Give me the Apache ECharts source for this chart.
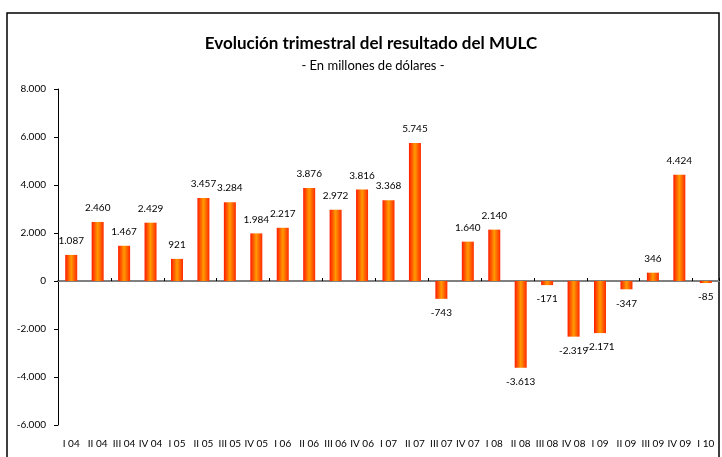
<!DOCTYPE html>
<html>
<head>
<meta charset="utf-8">
<script src="https://cdn.jsdelivr.net/npm/echarts@6/dist/echarts.min.js"></script>
<style>
  html, body { margin: 0; padding: 0; background: #fff; }
  #chart { width: 722px; height: 457px; }
</style>
</head>
<body>
<div id="chart"></div>
<script>
var quarters = ['I 04', 'II 04', 'III 04', 'IV 04', 'I 05', 'II 05', 'III 05', 'IV 05', 'I 06', 'II 06', 'III 06', 'IV 06', 'I 07', 'II 07', 'III 07', 'IV 07', 'I 08', 'II 08', 'III 08', 'IV 08', 'I 09', 'II 09', 'III 09', 'IV 09', 'I 10'];
var resultado = [1087, 2460, 1467, 2429, 921, 3457, 3284, 1984, 2217, 3876, 2972, 3816, 3368, 5745, -743, 1640, 2140, -3613, -171, -2319, -2171, -347, 346, 4424, -85];

var font = 'Lato, "Open Sans", sans-serif';

// miles con punto
function fmt(v) {
  var s = String(Math.abs(v)).replace(/\B(?=(\d{3})+(?!\d))/g, '.');
  return (v < 0 ? '-' : '') + s;
}

var barColor = new echarts.graphic.LinearGradient(0, 0, 1, 0, [
  { offset: 0, color: '#ff1a00' },
  { offset: 0.5, color: '#ff9a00' },
  { offset: 1, color: '#ff2a00' }
]);

var chart = echarts.init(document.getElementById('chart'));

var option = {
  backgroundColor: '#fff',
  animation: false,
  title: [
    {
      text: 'Evolución trimestral del resultado del MULC',
      left: 366, top: 30, textAlign: 'center',
      textStyle: { fontFamily: font, fontSize: 17, fontWeight: 'bold', color: '#000' }
    },
    {
      text: '- En millones de dólares -',
      left: 368, top: 54, textAlign: 'center',
      textStyle: { fontFamily: font, fontSize: 13, fontWeight: 'normal', color: '#000' }
    }
  ],
  graphic: [{
    type: 'rect',
    shape: { x: 7, y: 13, width: 712, height: 470 },
    style: { fill: 'none', stroke: '#000', lineWidth: 1.5 },
    silent: true
  }],
  grid: { left: 58, right: 3, top: 89, bottom: 32 },
  xAxis: [
    {
      type: 'category',
      data: quarters,
      position: 'bottom',
      axisLine: { show: false, onZero: false },
      axisTick: { show: false },
      axisLabel: { margin: 14, fontFamily: font, fontSize: 10, color: '#000', interval: 0 }
    },
    {
      type: 'category',
      data: quarters,
      position: 'bottom',
      axisLine: { onZero: true, lineStyle: { color: '#808080', width: 2 } },
      axisTick: { show: true, length: 3, inside: true, lineStyle: { color: '#000', width: 1 } },
      axisLabel: { show: false }
    }
  ],
  yAxis: {
    type: 'value',
    min: -6000, max: 8000, interval: 2000,
    axisLine: { show: true, lineStyle: { color: '#000', width: 1 } },
    axisTick: { show: true, length: 4, lineStyle: { color: '#000' } },
    splitLine: { show: false },
    axisLabel: {
      margin: 12, fontFamily: font, fontSize: 10, color: '#000',
      formatter: function (v) { return fmt(v); }
    }
  },
  series: [{
    type: 'bar',
    xAxisIndex: 0,
    barWidth: 12,
    itemStyle: { color: barColor },
    data: resultado.map(function (v) {
      return {
        value: v,
        label: { position: v < 0 ? 'bottom' : 'top' }
      };
    }),
    label: {
      show: true,
      distance: 9,
      fontFamily: font, fontSize: 10, color: '#000',
      formatter: function (p) { return fmt(p.value); }
    }
  }]
};

chart.setOption(option);
</script>
</body>
</html>
